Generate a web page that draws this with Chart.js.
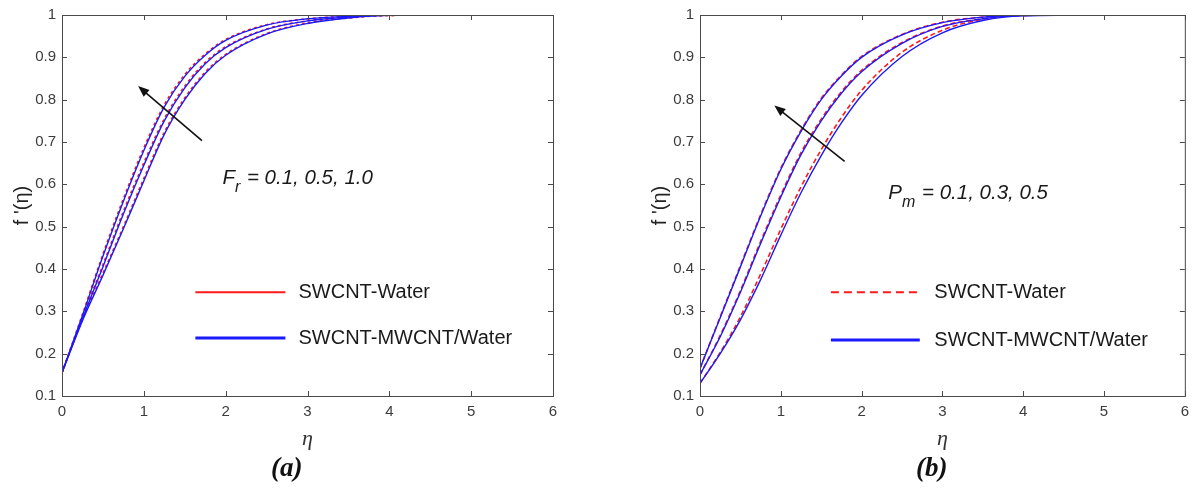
<!DOCTYPE html>
<html lang="en">
<head>
<meta charset="UTF-8">
<title>f'(eta) profiles</title>
<script src="https://cdn.jsdelivr.net/npm/chart.js"></script>
<style>
  body { margin: 0; background: #fff; width: 1196px; height: 491px; position: relative; overflow: hidden; }
  .box { position: absolute; top: 0; height: 491px; }
  .cap { position: absolute; top: 452px; font: bold italic 27px "Liberation Serif", serif; color: #111; }
</style>
</head>
<body>

<div class="box" style="left:0; width:600px;"><canvas id="chartA"></canvas></div>
<div class="box" style="left:600px; width:596px;"><canvas id="chartB"></canvas></div>
<div class="cap" style="left:271px;">(a)</div>
<div class="cap" style="left:916px;">(b)</div>

<script>
// eta grid shared by all curves
const eta = [0, 0.25, 0.5, 0.75, 1, 1.25, 1.5, 1.75, 2, 2.5, 3, 3.5, 4, 5, 6];
const xTicks = [0, 1, 2, 3, 4, 5, 6];
const yTicks = [0.1, 0.2, 0.3, 0.4, 0.5, 0.6, 0.7, 0.8, 0.9, 1];

// (a) Fr = 0.1, 0.5, 1.0
const frLabels = ['0.1', '0.5', '1.0'];
const frHybrid = [
  [0.155, 0.278, 0.385, 0.495, 0.608, 0.718, 0.8, 0.862, 0.905, 0.955, 0.98, 0.993, 0.999, 1, 1],
  [0.155, 0.283, 0.405, 0.53, 0.645, 0.75, 0.828, 0.885, 0.923, 0.966, 0.986, 0.995, 0.999, 1, 1],
  [0.155, 0.29, 0.43, 0.56, 0.68, 0.783, 0.855, 0.905, 0.94, 0.976, 0.991, 0.997, 1, 1, 1]
];
const frWater = [
  [0.155, 0.281, 0.39, 0.5, 0.614, 0.723, 0.804, 0.865, 0.907, 0.956, 0.981, 0.993, 0.999, 1, 1],
  [0.155, 0.286, 0.41, 0.536, 0.651, 0.755, 0.832, 0.888, 0.925, 0.967, 0.986, 0.995, 0.999, 1, 1],
  [0.155, 0.293, 0.435, 0.566, 0.686, 0.788, 0.859, 0.908, 0.942, 0.977, 0.991, 0.997, 1, 1, 1]
];

// (b) Pm = 0.1, 0.3, 0.5
const pmLabels = ['0.1', '0.3', '0.5'];
const pmHybrid = [
  [0.13, 0.2, 0.28, 0.375, 0.48, 0.58, 0.668, 0.745, 0.81, 0.902, 0.958, 0.987, 0.998, 1, 1],
  [0.15, 0.24, 0.345, 0.46, 0.57, 0.67, 0.75, 0.815, 0.866, 0.933, 0.973, 0.991, 0.999, 1, 1],
  [0.165, 0.285, 0.405, 0.525, 0.635, 0.725, 0.8, 0.856, 0.9, 0.953, 0.982, 0.995, 1, 1, 1]
];
const pmWater = [
  [0.13, 0.203, 0.287, 0.388, 0.494, 0.594, 0.682, 0.758, 0.822, 0.912, 0.964, 0.99, 0.999, 1, 1],
  [0.15, 0.243, 0.349, 0.465, 0.575, 0.675, 0.754, 0.819, 0.869, 0.935, 0.974, 0.991, 0.999, 1, 1],
  [0.165, 0.287, 0.408, 0.528, 0.638, 0.728, 0.803, 0.858, 0.902, 0.954, 0.983, 0.995, 1, 1, 1]
];

const RED = '#ff1a1a';
const BLUE = '#1a1aff';

function makeDatasets(water, hybrid, labels, prm, dash) {
  const sets = [];
  water.forEach((ys, i) => sets.push({
    label: 'SWCNT-Water ' + prm + '=' + labels[i],
    data: eta.map((x, k) => ({ x: x, y: ys[k] })),
    borderColor: RED, borderWidth: 1.6, borderDash: dash,
    pointRadius: 0, cubicInterpolationMode: 'monotone', order: 2
  }));
  hybrid.forEach((ys, i) => sets.push({
    label: 'SWCNT-MWCNT/Water ' + prm + '=' + labels[i],
    data: eta.map((x, k) => ({ x: x, y: ys[k] })),
    borderColor: BLUE, borderWidth: 1.4,
    pointRadius: 0, cubicInterpolationMode: 'monotone', order: 1
  }));
  return sets;
}

// box, inward ticks, arrow, text and legend drawn in data coordinates
const decor = {
  id: 'decor',
  afterDraw(chart) {
    const o = chart.options.plugins.decor;
    const c = chart.ctx, xs = chart.scales.x, ys = chart.scales.y, a = chart.chartArea;
    c.save();
    c.strokeStyle = '#4a4a4a';
    c.lineWidth = 1;
    c.strokeRect(a.left + 0.5, a.top + 0.5, a.right - a.left, a.bottom - a.top);
    c.beginPath();
    xTicks.forEach(v => {
      const p = Math.round(xs.getPixelForValue(v)) + 0.5;
      c.moveTo(p, a.bottom); c.lineTo(p, a.bottom - 5);
      c.moveTo(p, a.top); c.lineTo(p, a.top + 5);
    });
    yTicks.forEach(v => {
      const p = Math.round(ys.getPixelForValue(v)) + 0.5;
      c.moveTo(a.left, p); c.lineTo(a.left + 5, p);
      c.moveTo(a.right, p); c.lineTo(a.right - 5, p);
    });
    c.stroke();

    // arrow
    const x0 = xs.getPixelForValue(o.arrow[0]), y0 = ys.getPixelForValue(o.arrow[1]);
    const x1 = xs.getPixelForValue(o.arrow[2]), y1 = ys.getPixelForValue(o.arrow[3]);
    const ang = Math.atan2(y1 - y0, x1 - x0);
    c.strokeStyle = '#111'; c.fillStyle = '#111'; c.lineWidth = 1.6;
    c.beginPath(); c.moveTo(x0, y0); c.lineTo(x1 - 6 * Math.cos(ang), y1 - 6 * Math.sin(ang)); c.stroke();
    c.beginPath();
    c.moveTo(x1, y1);
    c.lineTo(x1 - 12 * Math.cos(ang - 0.38), y1 - 12 * Math.sin(ang - 0.38));
    c.lineTo(x1 - 12 * Math.cos(ang + 0.38), y1 - 12 * Math.sin(ang + 0.38));
    c.closePath(); c.fill();

    // parameter text
    let tx = xs.getPixelForValue(o.text[0]);
    const ty = ys.getPixelForValue(o.text[1]);
    c.fillStyle = '#1a1a1a';
    c.textBaseline = 'alphabetic';
    c.font = 'italic 20.5px "Liberation Sans", Arial, sans-serif';
    c.fillText(o.sym, tx, ty);
    tx += c.measureText(o.sym).width;
    c.font = 'italic 16px "Liberation Sans", Arial, sans-serif';
    c.fillText(o.sub, tx, ty + 8);
    tx += c.measureText(o.sub).width + 1;
    c.font = 'italic 20.5px "Liberation Sans", Arial, sans-serif';
    c.fillText(o.rest, tx, ty);

    // legend
    const lx0 = xs.getPixelForValue(o.legend.x0), lx1 = xs.getPixelForValue(o.legend.x1);
    const ltx = xs.getPixelForValue(o.legend.tx);
    c.font = '20px "Liberation Sans", Arial, sans-serif';
    c.textBaseline = 'middle';
    o.legend.items.forEach(it => {
      const py = ys.getPixelForValue(it.y);
      c.strokeStyle = it.color; c.lineWidth = it.width;
      c.setLineDash(it.dash || []);
      c.beginPath(); c.moveTo(lx0, py); c.lineTo(lx1, py); c.stroke();
      c.setLineDash([]);
      c.fillStyle = '#1a1a1a';
      c.fillText(it.text, ltx, py);
    });
    c.restore();
  }
};

function makeOptions(padLeft, padRight, decorOpts) {
  return {
    responsive: true,
    maintainAspectRatio: false,
    animation: false,
    layout: { padding: { left: padLeft, right: padRight, top: 14, bottom: 41 } },
    plugins: { legend: { display: false }, tooltip: { enabled: false }, decor: decorOpts },
    scales: {
      x: {
        type: 'linear', min: 0, max: 6,
        border: { display: false },
        grid: { display: false, drawTicks: false },
        afterBuildTicks: s => { s.ticks = xTicks.map(v => ({ value: v })); },
        ticks: { padding: 7, color: '#3c3c3c', font: { family: '"Liberation Sans", Arial', size: 15 } },
        title: { display: true, text: 'η', color: '#333', padding: { top: 0, bottom: 0 },
          font: { family: '"Liberation Serif", serif', size: 22, style: 'italic', lineHeight: 1 } }
      },
      y: {
        type: 'linear', min: 0.1, max: 1,
        border: { display: false },
        grid: { display: false, drawTicks: false },
        afterBuildTicks: s => { s.ticks = yTicks.map(v => ({ value: v })); },
        afterFit: s => { s.width = 52; },
        ticks: { padding: 6, color: '#3c3c3c', font: { family: '"Liberation Sans", Arial', size: 15 },
          callback: v => String(Number(v.toFixed(1))) },
        title: { display: true, text: "f '(η)", color: '#222', padding: 0,
          font: { family: '"Liberation Sans", Arial', size: 20 } }
      }
    }
  };
}

new Chart(document.getElementById('chartA'), {
  type: 'line',
  data: { datasets: makeDatasets(frWater, frHybrid, frLabels, 'Fr', [3, 3]) },
  options: makeOptions(10, 47, {
    arrow: [1.71, 0.703, 0.93, 0.832],
    text: [1.96, 0.6],
    sym: 'F', sub: 'r', rest: ' = 0.1, 0.5, 1.0',
    legend: { x0: 1.63, x1: 2.73, tx: 2.89, items: [
      { y: 0.345, color: RED, width: 2, text: 'SWCNT-Water' },
      { y: 0.237, color: BLUE, width: 3, text: 'SWCNT-MWCNT/Water' }
    ] }
  }),
  plugins: [decor]
});

new Chart(document.getElementById('chartB'), {
  type: 'line',
  data: { datasets: makeDatasets(pmWater, pmHybrid, pmLabels, 'Pm', [5, 3]) },
  options: makeOptions(48, 6, {
    arrow: [1.79, 0.654, 0.92, 0.786],
    text: [2.33, 0.565],
    sym: 'P', sub: 'm', rest: ' = 0.1, 0.3, 0.5',
    legend: { x0: 1.62, x1: 2.72, tx: 2.9, items: [
      { y: 0.345, color: RED, width: 2, dash: [8, 5], text: 'SWCNT-Water' },
      { y: 0.232, color: BLUE, width: 3, text: 'SWCNT-MWCNT/Water' }
    ] }
  }),
  plugins: [decor]
});
</script>
</body>
</html>
